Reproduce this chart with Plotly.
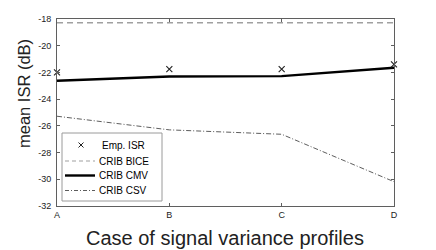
import plotly.graph_objects as go

categories = ["A", "B", "C", "D"]
emp_isr = [-22.0, -21.75, -21.75, -21.4]
crib_bice = [-18.28, -18.28, -18.28, -18.28]
crib_cmv = [-22.62, -22.3, -22.28, -21.65]
crib_csv = [-25.28, -26.3, -26.63, -30.18]
y_ticks = [-32, -30, -28, -26, -24, -22, -20, -18]
legend_names = ["Emp. ISR", "CRIB BICE", "CRIB CMV", "CRIB CSV"]

# the page body adds an 8px offset; compensate so the plot lands where the reference has it
OFF = 8
W, H = 436 - OFF, 250 - OFF
L, R, T, B = 57 - OFF, 42, 19 - OFF, 44
pw, ph = W - L - R, H - T - B
X0, Y1 = 57, 250 - 44  # window pixel coords of plot left / bottom

def px(x):
    return (x - X0) / pw

def py(y):
    return (Y1 - y) / ph

AX = "#5f5f5f"
FONT = "Liberation Sans, Arial"
fig = go.Figure()
fig.add_trace(go.Scatter(x=categories, y=crib_bice, mode="lines", name=legend_names[1],
                         line=dict(color="#a0a0a0", width=1.4, dash="6px,4px"), showlegend=False))
fig.add_trace(go.Scatter(x=categories, y=crib_csv, mode="lines", name=legend_names[3],
                         line=dict(color="#333333", width=0.8, dash="5px,2px,1px,2px"), showlegend=False))
fig.add_trace(go.Scatter(x=categories, y=crib_cmv, mode="lines", name=legend_names[2],
                         line=dict(color="black", width=2.4), showlegend=False))
fig.add_trace(go.Scatter(x=categories, y=emp_isr, mode="markers", name=legend_names[0],
                         marker=dict(symbol="x-thin", size=6, line=dict(color="#222222", width=1.1)),
                         showlegend=False, cliponaxis=False))

shapes = []
annotations = []
shapes.append(dict(type="rect", xref="paper", yref="paper", x0=px(62), x1=px(162), y0=py(201), y1=py(133),
                   line=dict(color="#9a9a9a", width=1), fillcolor="white", layer="above"))
rows = [145, 161, 175.5, 190.5]
lx0, lx1 = px(65), px(95)
cx, cy = px(81), py(rows[0])
dx, dy = 2.5 / pw, 2.5 / ph
shapes.append(dict(type="line", xref="paper", yref="paper", x0=cx - dx, x1=cx + dx, y0=cy - dy, y1=cy + dy,
                   line=dict(color="#222222", width=1), layer="above"))
shapes.append(dict(type="line", xref="paper", yref="paper", x0=cx - dx, x1=cx + dx, y0=cy + dy, y1=cy - dy,
                   line=dict(color="#222222", width=1), layer="above"))
styles = [None,
          dict(color="#a0a0a0", width=1.2, dash="4px,3px"),
          dict(color="black", width=2.4),
          dict(color="#333333", width=0.8, dash="4px,2px,1px,2px")]
for i, (name, row) in enumerate(zip(legend_names, rows)):
    if styles[i] is not None:
        shapes.append(dict(type="line", xref="paper", yref="paper", x0=lx0, x1=lx1, y0=py(row), y1=py(row),
                           line=styles[i], layer="above"))
    annotations.append(dict(text=name, xref="paper", yref="paper", x=px(100 if i == 0 else 96.5), y=py(row),
                            xanchor="left", yanchor="middle", showarrow=False,
                            font=dict(family=FONT, size=10, color="black")))

annotations.append(dict(text="Case of signal variance profiles", xref="paper", yref="paper",
                        x=px(225), y=py(238), xanchor="center", yanchor="middle", showarrow=False,
                        font=dict(family=FONT, size=20, color="#222222")))
annotations.append(dict(text="mean ISR (dB)", xref="paper", yref="paper", textangle=-90,
                        x=px(24), y=py(94), xanchor="center", yanchor="middle", showarrow=False,
                        font=dict(family=FONT, size=16.5, color="#222222")))

fig.update_layout(
    width=W, height=H, margin=dict(l=L, r=R, t=T, b=B, autoexpand=False),
    paper_bgcolor="white", plot_bgcolor="white",
    font=dict(family=FONT, color="#222222"),
    shapes=shapes, annotations=annotations, showlegend=False,
    xaxis=dict(type="category", range=[0, 3], showgrid=False, zeroline=False, automargin=False,
               showline=True, linecolor=AX, linewidth=1, mirror="allticks",
               ticks="inside", ticklen=3, tickcolor=AX, tickwidth=1,
               tickfont=dict(size=9, color="#222222")),
    yaxis=dict(range=[-32, -18], tickvals=y_ticks, ticktext=[str(v) for v in y_ticks],
               showgrid=False, zeroline=False, automargin=False,
               showline=True, linecolor=AX, linewidth=1, mirror="allticks",
               ticks="inside", ticklen=3, tickcolor=AX, tickwidth=1, ticklabelstandoff=3,
               tickfont=dict(size=9, color="#222222")),
)
fig.write_html("out.html")
